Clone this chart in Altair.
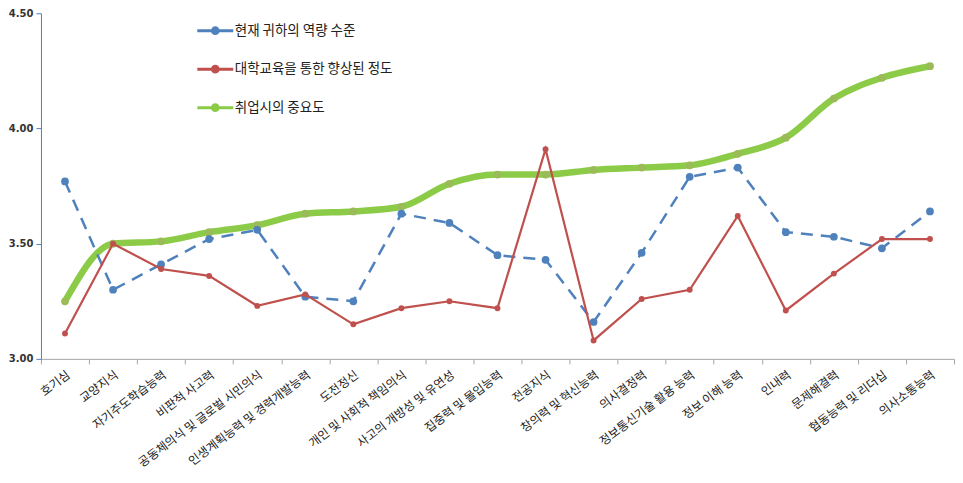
import altair as alt
import pandas as pd

categories = [
    "호기심", "교양지식", "자기주도학습능력", "비판적 사고력",
    "공동체의식 및 글로벌 시민의식", "인생계획능력 및 경력개발능력", "도전정신",
    "개인 및 사회적 책임의식", "사고의 개방성 및 유연성", "집중력 및 몰입능력",
    "전공지식", "창의력 및 혁신능력", "의사결정력", "정보통신기술 활용 능력",
    "정보 이해 능력", "인내력", "문제해결력", "협동능력 및 리더십", "의사소통능력",
]
series_names = ["현재 귀하의 역량 수준", "대학교육을 통한 향상된 정도", "취업시의 중요도"]

current_level = [3.77, 3.30, 3.41, 3.52, 3.56, 3.27, 3.25, 3.63, 3.59, 3.45,
                 3.43, 3.16, 3.46, 3.79, 3.83, 3.55, 3.53, 3.48, 3.64]
improved_by_univ = [3.11, 3.50, 3.39, 3.36, 3.23, 3.28, 3.15, 3.22, 3.25, 3.22,
                    3.91, 3.08, 3.26, 3.30, 3.62, 3.21, 3.37, 3.52, 3.52]
importance = [3.25, 3.50, 3.51, 3.55, 3.58, 3.63, 3.64, 3.66, 3.76, 3.80,
              3.80, 3.82, 3.83, 3.84, 3.89, 3.96, 4.13, 4.22, 4.27]

y_ticks = [3.0, 3.5, 4.0, 4.5]

line_colors = ["#4F81BD", "#C0504D", "#8CCB47"]
point_colors = ["#4F81BD", "#C0504D", "#9BBB59"]

rows = []
for name, vals in zip(series_names, [current_level, improved_by_univ, importance]):
    for c, v in zip(categories, vals):
        rows.append({"cat": c, "series": name, "value": v})
df = pd.DataFrame(rows)

x_enc = alt.X(
    "cat:N", sort=categories, bandPosition=0.5,
    scale=alt.Scale(type="band", domain=categories, paddingInner=0, paddingOuter=0),
    axis=alt.Axis(
        title=None, tickBand="extent", labelAngle=-37, labelAlign="right",
        labelBaseline="top", labelPadding=5, tickSize=5,
        domainColor="#A6A6A6", tickColor="#A6A6A6",
        labelFont="Noto Sans CJK KR", labelFontSize=12, labelColor="#222222",
        labelOverlap=False, labelLimit=300,
    ),
)
y_enc = alt.Y(
    "value:Q",
    scale=alt.Scale(domain=[3.0, 4.5], nice=False, zero=False),
    axis=alt.Axis(
        title=None, values=y_ticks, format=".2f", grid=False,
        domainColor="#4F81BD", tickColor="#4F81BD", tickSize=5,
        labelFont="DejaVu Sans", labelFontSize=10, labelColor="#333333",
        labelFontWeight="bold", labelPadding=3,
    ),
)

legend = alt.Legend(
    title=None, orient="none", legendX=155, legendY=-2,
    symbolType="M-1,0H1M0.16,0A0.16,0.16,0,1,1,-0.16,0A0.16,0.16,0,1,1,0.16,0",
    symbolSize=1296, symbolStrokeWidth=3, rowPadding=9.5, labelOffset=0,
    labelFont="Noto Sans CJK KR", labelFontSize=13.5, labelColor="#222222",
)
color_enc = alt.Color(
    "series:N", scale=alt.Scale(domain=series_names, range=line_colors), legend=legend
)

layers = []
styles = [
    dict(strokeWidth=2.5, strokeDash=[12, 8], interpolate="linear"),
    dict(strokeWidth=2.2, interpolate="linear"),
    dict(strokeWidth=6.5, interpolate="monotone", strokeCap="round"),
]
order = [2, 0, 1]
for idx in order:
    name = series_names[idx]
    sub = alt.Chart(df).transform_filter(alt.datum.series == name)
    layers.append(
        sub.mark_line(**styles[idx]).encode(x=x_enc, y=y_enc, color=color_enc)
    )
    layers.append(
        sub.mark_point(filled=True, opacity=1, size=[60, 35, 60][idx],
                       color=point_colors[idx]).encode(x=x_enc, y=y_enc)
    )

chart = alt.layer(*layers).properties(
    width=914, height=346,
    padding={"left": 0, "top": 0, "right": 0, "bottom": 0},
    background="white",
).configure_view(stroke=None)

chart.save("out.html", embed_options={"renderer": "svg", "actions": False})
